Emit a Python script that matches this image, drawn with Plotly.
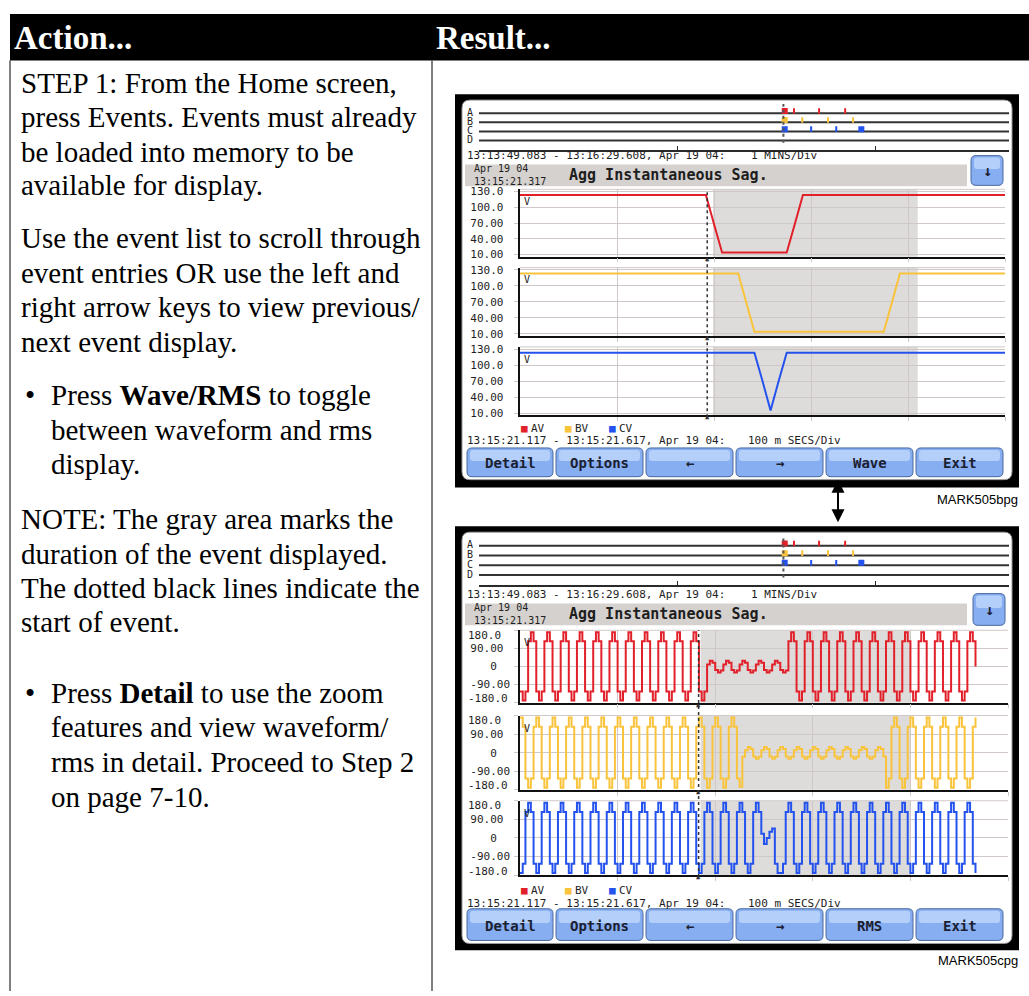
import plotly.graph_objects as go

# top screen (RMS view): half-cycle rms in volts, one value every 8.333 ms
rms_step_ms = 8.333
av_rms = [
    123, 123, 123, 123, 123, 123, 123, 123, 123, 123, 123, 123,
    123, 123, 123, 123, 123, 123, 123, 123, 123, 123, 123, 123,
    68, 14, 14, 14, 14, 14, 14, 14, 14, 14, 68,
    123, 123, 123, 123, 123, 123, 123, 123, 123, 123, 123, 123, 123,
    123, 123, 123, 123, 123, 123, 123, 123, 123, 123, 123, 123, 123,
]
bv_rms = [
    123, 123, 123, 123, 123, 123, 123, 123, 123, 123, 123, 123, 123, 123,
    123, 123, 123, 123, 123, 123, 123, 123, 123, 123, 123, 123, 123, 123,
    68, 14, 14, 14, 14, 14, 14, 14, 14, 14, 14, 14, 14, 14, 14, 14, 14, 14, 68,
    123, 123, 123, 123, 123, 123, 123, 123, 123, 123, 123, 123, 123, 123,
]
cv_rms = [
    123, 123, 123, 123, 123, 123, 123, 123, 123, 123, 123, 123, 123, 123, 123,
    123, 123, 123, 123, 123, 123, 123, 123, 123, 123, 123, 123, 123, 123, 123,
    70, 15, 70,
    123, 123, 123, 123, 123, 123, 123, 123, 123, 123, 123, 123, 123, 123,
    123, 123, 123, 123, 123, 123, 123, 123, 123, 123, 123, 123, 123, 123,
]

# bottom screen (waveform view): instantaneous volts, one value every 2.778 ms
wave_step_ms = 2.778
av_wave = [
    -125, -170, -125, 125, 170, 125, -125, -170, -125, 125, 170, 125,
    -125, -170, -125, 125, 170, 125, -125, -170, -125, 125, 170, 125,
    -125, -170, -125, 125, 170, 125, -125, -170, -125, 125, 170, 125,
    -125, -170, -125, 125, 170, 125, -125, -170, -125, 125, 170, 125,
    -125, -170, -125, 125, 170, 125, -125, -170, -125, 125, 170, 125,
    -125, -170, -125, 125, 170, 125,
    -125, -170, -125,
    10, 28, 18, -18, -30, -20, 10, 28, 18, -18, -30, -20,
    10, 28, 18, -18, -30, -20, 10, 28, 18, -18, -30, -20,
    10, 28, 18, -18, -30, -20,
    125, 170, 125, -125, -170, -125, 125, 170, 125, -125, -170, -125,
    125, 170, 125, -125, -170, -125, 125, 170, 125, -125, -170, -125,
    125, 170, 125, -125, -170, -125, 125, 170, 125, -125, -170, -125,
    125, 170, 125, -125, -170, -125, 125, 170, 125, -125, -170, -125,
    125, 170, 125, -125, -170, -125, 125, 170, 125, -125, -170, -125,
    125, 170, 125, -125, -170, -125,
    125, 170, 125, 0,
]
bv_wave = [
    170, 125, -125, -170, -125, 125, 170, 125, -125, -170, -125, 125,
    170, 125, -125, -170, -125, 125, 170, 125, -125, -170, -125, 125,
    170, 125, -125, -170, -125, 125, 170, 125, -125, -170, -125, 125,
    170, 125, -125, -170, -125, 125, 170, 125, -125, -170, -125, 125,
    170, 125, -125, -170, -125, 125, 170, 125, -125, -170, -125, 125,
    170, 125, -125, -170, -125, 125, 170, 125, -125, -170, -125, 125,
    170, 125, -125, -170, -125, 125,
    170, 125, -125, -165,
    -20, 12,
    28, 18, -18, -30, -20, 12, 28, 18, -18, -30, -20, 12,
    28, 18, -18, -30, -20, 12, 28, 18, -18, -30, -20, 12,
    28, 18, -18, -30, -20, 12, 28, 18, -18, -30, -20, 12,
    28, 18, -18, -30, -20, 12, 28, 18, -18, -30, -20, 12,
    28, 18, -18,
    -170, -125, 125,
    170, 125, -125, -170, -125, 125, 170, 125, -125, -170, -125, 125,
    170, 125, -125, -170, -125, 125, 170, 125, -125, -170, -125, 125,
    170, 125, -125, -170, -125, 125,
    170,
]
cv_wave = [
    -170, -125, 125, 170, 125, -125, -170, -125, 125, 170, 125, -125,
    -170, -125, 125, 170, 125, -125, -170, -125, 125, 170, 125, -125,
    -170, -125, 125, 170, 125, -125, -170, -125, 125, 170, 125, -125,
    -170, -125, 125, 170, 125, -125, -170, -125, 125, 170, 125, -125,
    -170, -125, 125, 170, 125, -125, -170, -125, 125, 170, 125, -125,
    -170, -125, 125, 170, 125, -125, -170, -125, 125, 170, 125, -125,
    -170, -125, 125, 170, 125, -125, -170, -125, 125, 170, 125, -125,
    -170, -125, 125, 170, 125,
    20, -30, 0, 30, 45,
    -125, -170, -170, -125, 125, 170, 125, -125,
    -170, -125, 125, 170, 125, -125, -170, -125, 125, 170, 125, -125,
    -170, -125, 125, 170, 125, -125, -170, -125, 125, 170, 125, -125,
    -170, -125, 125, 170, 125, -125, -170, -125, 125, 170, 125, -125,
    -170, -125, 125, 170, 125, -125, -170, -125, 125, 170, 125, -125,
    -170, -125, 125, 170, 125, -125, -170, -125, 125, 170, 125, -125,
    -170, -125, 125, 170, 125, -125,
    -170,
]

# event list strip: seconds after 13:13:49.083 (1 MINS/Div)
strip_span_s = 160.525
event_t = 92.2
av_marks = [92.6, 95.4, 103.0, 110.9]
bv_marks = [92.6, 97.9, 105.7, 113.3]
cv_marks = [92.6, 100.6, 108.2, 115.8]

# event start and shaded event duration, ms into the 500 ms window
rms_event_ms, rms_shade_ms = 193, (199, 410)
wave_event_ms, wave_shade_ms = 183, (185, 400)

rms_ticks = [10, 40, 70, 100, 130]
rms_ticktext = ['10.00', '40.00', '70.00', '100.0', '130.0']
wave_ticks = [-180, -90, 0, 90, 180]
wave_ticktext = ['-180.0', '-90.00', '0', '90.00', '180.0']

phase_names = ['AV', 'BV', 'CV']
phase_colors = ['#e2202a', '#f9c33c', '#2352ee']

# ---------------- page layout ----------------
W, H = 1029, 996
MONO = 'DejaVu Sans Mono'
SERIF = 'Liberation Serif'
GRID = '#d0c8c8'
INK = '#1e1e1e'
NB = '\u00a0'


def px(x):
    return x / W


def py(y):
    return 1 - y / H


def rrect(x0, y0, x1, y1, r):
    return (f'M{px(x0 + r)},{py(y0)} L{px(x1 - r)},{py(y0)} Q{px(x1)},{py(y0)} {px(x1)},{py(y0 + r)} '
            f'L{px(x1)},{py(y1 - r)} Q{px(x1)},{py(y1)} {px(x1 - r)},{py(y1)} '
            f'L{px(x0 + r)},{py(y1)} Q{px(x0)},{py(y1)} {px(x0)},{py(y1 - r)} '
            f'L{px(x0)},{py(y0 + r)} Q{px(x0)},{py(y0)} {px(x0 + r)},{py(y0)} Z')


def pad(label):
    # the meter centres its scale labels; right-aligned mono text padded with spaces does the same
    if len(label) == 1:
        return label + NB * 2
    return label + NB * (6 - len(label))


shapes = []
annotations = []
layout = {}
fig = go.Figure()


def note(x, y, s, size=11, color=INK, family=MONO, anchor='left'):
    annotations.append(dict(x=px(x), y=py(y), xref='paper', yref='paper', text=s, showarrow=False,
                            xanchor=anchor, yanchor='middle', borderpad=0, align='left',
                            font=dict(family=family, size=size, color=color)))


def rect(x0, y0, x1, y1, fill):
    shapes.append(dict(type='rect', xref='paper', yref='paper', x0=px(x0), x1=px(x1), y0=py(y0), y1=py(y1),
                       fillcolor=fill, line=dict(width=0), layer='below'))


def vline(x, y0, y1, color='black', width=1):
    shapes.append(dict(type='line', xref='paper', yref='paper', x0=px(x), x1=px(x), y0=py(y0), y1=py(y1),
                       line=dict(color=color, width=width), layer='below'))


def button(x0, y0, x1, y1, label, size=14):
    shapes.append(dict(type='path', path=rrect(x0, y0, x1, y1, 5), xref='paper', yref='paper',
                       fillcolor='#87aef0', line=dict(color='#48699f', width=1), layer='below'))
    shapes.append(dict(type='path', path=rrect(x0 + 3, y0 + 2, x1 - 3, y0 + (y1 - y0) * 0.45, 3),
                       xref='paper', yref='paper', fillcolor='#b4d0fa', line=dict(width=0), layer='below'))
    note((x0 + x1) / 2, (y0 + y1) / 2 + 1, f'<b>{label}</b>', size=size, color='#1b2030', anchor='center')


def ids(n):
    return ('x' if n == 1 else f'x{n}'), ('y' if n == 1 else f'y{n}')


# table frame and header
rect(10, 10, W, 57, 'black')
vline(10, 57, H)
vline(432, 57, H)
note(13, 34, '<b>Action...</b>', size=33, color='white', family=SERIF)
note(435, 34, '<b>Result...</b>', size=33, color='white', family=SERIF)

left_text = [
    (20, 80, 'STEP 1: From the Home screen,'),
    (20, 114, 'press Events. Events must already'),
    (20, 149, 'be loaded into memory to be'),
    (20, 183, 'available for display.'),
    (20, 236, 'Use the event list to scroll through'),
    (20, 271, 'event entries OR use the left and'),
    (20, 306, 'right arrow keys to view previous/'),
    (20, 341, 'next event display.'),
    (50, 395, 'Press <b>Wave/RMS</b> to toggle'),
    (50, 430, 'between waveform and rms'),
    (50, 464, 'display.'),
    (20, 520, 'NOTE: The gray area marks the'),
    (20, 555, 'duration of the event displayed.'),
    (20, 589, 'The dotted black lines indicate the'),
    (20, 624, 'start of event.'),
    (50, 695, 'Press <b>Detail</b> to use the zoom'),
    (50, 730, 'features and view waveform/'),
    (50, 765, 'rms in detail. Proceed to Step 2'),
    (50, 800, 'on page 7-10.'),
]
for x, y, s in left_text:
    note(x, y, s, size=29, color='black', family=SERIF)
note(24, 395, '•', size=29, color='black', family=SERIF)
note(24, 695, '•', size=29, color='black', family=SERIF)

# arrow linking the two screens
annotations.append(dict(x=px(838), y=py(523), ax=0, ay=-44, xref='paper', yref='paper',
                        text='', showarrow=True, arrowhead=2,
                        arrowside='end+start', arrowsize=1.3, arrowwidth=2, arrowcolor='black'))

screens = [
    dict(frame=(91, 488), inner=(97, 480), strip=(101, 147), strip_text=153, band=(162, 184),
         band_text=(173, 173), down=(971, 153, 1003, 183),
         plots=[(187, 255), (266, 335), (346, 415)], right=1005, legend=428, foot=440,
         buttons=(448, 477), labels=['Detail', 'Options', '←', '→', 'Wave', 'Exit'],
         mark=('MARK505bpg', 500), first_axis=1, edge_labels=False,
         series=[av_rms, bv_rms, cv_rms], step=rms_step_ms, shape='linear', yrange=[6, 134],
         ticks=rms_ticks, ticktext=rms_ticktext, event=rms_event_ms, shade=rms_shade_ms),
    dict(frame=(527, 955), inner=(533, 948), strip=(537, 586), strip_text=596, band=(605, 627),
         band_text=(616, 616), down=(973, 595, 1005, 627),
         plots=[(632, 705), (718, 793), (804, 879)], right=1008, legend=895, foot=908,
         buttons=(913, 945), labels=['Detail', 'Options', '←', '→', 'RMS', 'Exit'],
         mark=('MARK505cpg', 965), first_axis=5, edge_labels=True,
         series=[av_wave, bv_wave, cv_wave], step=wave_step_ms, shape='hv', yrange=[-180, 180],
         ticks=wave_ticks, ticktext=wave_ticktext, event=wave_event_ms, shade=wave_shade_ms),
]

button_x = [(467, 553), (556, 643), (646, 733), (736, 823), (826, 913), (916, 1003)]

for g in screens:
    # bezel
    rect(455, g['frame'][0], 1019, g['frame'][1], 'black')
    shapes.append(dict(type='path', path=rrect(462, g['inner'][0], 1012, g['inner'][1], 8),
                       xref='paper', yref='paper', fillcolor='white',
                       line=dict(color='#9a9a9a', width=1), layer='below'))

    # event list strip
    n = g['first_axis']
    xid, yid = ids(n)
    layout['xaxis' if n == 1 else f'xaxis{n}'] = dict(
        domain=[px(479), px(1009)], range=[0, strip_span_s], anchor=yid, showgrid=False, zeroline=False,
        showticklabels=False, tickvals=[0, 60, 120], ticks='inside', ticklen=4, tickcolor='#2a2a2a',
        showline=True, linecolor='#2a2a2a', linewidth=2)
    layout['yaxis' if n == 1 else f'yaxis{n}'] = dict(
        domain=[py(g['strip'][1]), py(g['strip'][0])], range=[0, 5], anchor=xid, visible=False)
    for lvl, letter in zip([4, 3, 2, 1], 'ABCD'):
        shapes.append(dict(type='line', xref=f'{xid} domain', yref=yid, x0=0, x1=1, y0=lvl, y1=lvl,
                           line=dict(color='#333333', width=2), layer='below'))
        annotations.append(dict(x=px(470), y=lvl + 0.1, xref='paper', yref=yid, text=letter,
                                showarrow=False, font=dict(family=MONO, size=10, color=INK)))
    mark_symbols = [['square', 'line-ns', 'line-ns', 'line-ns'],
                    ['square', 'line-ns', 'line-ns', 'line-ns'],
                    ['square', 'line-ns', 'line-ns', 'square']]
    for lvl, marks, color, syms in zip([4, 3, 2], [av_marks, bv_marks, cv_marks], phase_colors, mark_symbols):
        fig.add_trace(go.Scatter(x=marks, y=[lvl + 0.25] * len(marks), xaxis=xid, yaxis=yid, mode='markers',
                                 marker=dict(symbol=syms, size=4, color=color, line=dict(color=color, width=2)),
                                 hoverinfo='skip'))
    shapes.append(dict(type='line', xref=xid, yref=f'{yid} domain', x0=event_t, x1=event_t, y0=0.15, y1=1.0,
                       line=dict(color='#555555', width=2, dash='dot'), layer='above'))
    note(466, g['strip_text'], '13:13:49.083 - 13:16:29.608, Apr 19 04:')
    note(750, g['strip_text'], '1 MINS/Div')

    # title band
    rect(465, g['band'][0], 967, g['band'][1], '#d5d1ce')
    note(473, g['band_text'][0], 'Apr 19 04<br>13:15:21.317', size=10)
    note(568, g['band_text'][1], '<b>Agg Instantaneous Sag.</b>', size=15)
    button(*g['down'], '↓', size=15)

    # three phase plots
    plot_ids = []
    for i, ((top, bot), vals, name, color) in enumerate(zip(g['plots'], g['series'], phase_names, phase_colors)):
        k = n + 1 + i
        xid, yid = ids(k)
        plot_ids.append((xid, yid))
        labels = [pad(t) for t in g['ticktext']]
        if g['edge_labels']:
            # end labels sit just inside the plot, as on the meter
            for j in (0, -1):
                annotations.append(dict(x=px(510), y=0 if j == 0 else 1, xref='paper', yref=f'{yid} domain',
                                        text=labels[j], showarrow=False, xanchor='right', yanchor='middle',
                                        yshift=4 if j == 0 else -5,
                                        font=dict(family=MONO, size=11, color=INK)))
                labels[j] = ''
        layout[f'xaxis{k}'] = dict(
            domain=[px(520), px(g['right'])], range=[0, 500], anchor=yid,
            tickvals=[100, 200, 300, 400, 500], ticks='outside', ticklen=4, tickcolor=GRID,
            showticklabels=False, showgrid=True, gridcolor=GRID, showline=True, linecolor='#111111',
            linewidth=1.5, zeroline=False)
        layout[f'yaxis{k}'] = dict(
            domain=[py(bot), py(top)], range=g['yrange'], anchor=xid,
            tickvals=g['ticks'], ticktext=labels,
            ticks='outside', ticklen=4, tickcolor=GRID, showgrid=True, gridcolor=GRID,
            showline=True, linecolor='#111111', linewidth=1.5, zeroline=False, ticklabelstandoff=2,
            tickfont=dict(family=MONO, size=11, color=INK))
        shapes.append(dict(type='rect', xref=xid, yref=f'{yid} domain', x0=g['shade'][0], x1=g['shade'][1],
                           y0=0, y1=1, fillcolor='#dddcda', line=dict(width=0), layer='below'))
        shapes.append(dict(type='line', xref=f'{xid} domain', yref=f'{yid} domain', x0=0, x1=1, y0=1, y1=1,
                           line=dict(color=GRID, width=1), layer='below'))
        fig.add_trace(go.Scatter(x0=0, dx=g['step'], y=vals, xaxis=xid, yaxis=yid, mode='lines', name=name,
                                 line=dict(color=color, width=2, shape=g['shape']), hoverinfo='skip'))
        annotations.append(dict(x=0.004, y=0.93, xref=f'{xid} domain', yref=f'{yid} domain', text='V',
                                showarrow=False, xanchor='left', font=dict(family=MONO, size=10, color=INK)))
        annotations.append(dict(x=g['event'], y=0, xref=xid, yref=f'{yid} domain', text='▲', showarrow=False,
                                yanchor='middle', yshift=-2, font=dict(family=MONO, size=7, color='#333333')))
    shapes.append(dict(type='line', xref=plot_ids[0][0], yref='paper', x0=g['event'], x1=g['event'],
                       y0=py(g['plots'][2][1] + 2), y1=py(g['plots'][0][0]),
                       line=dict(color='#333333', width=1.5, dash='dot'), layer='above'))

    # legend and time span line
    for x, name, color in zip([520, 564, 608], phase_names, phase_colors):
        note(x, g['legend'], '■', size=11, color=color)
        note(x + 10, g['legend'], name, size=11)
    note(466, g['foot'], '13:15:21.117 - 13:15:21.617, Apr 19 04:')
    note(842, g['foot'], '100 m SECS/Div', anchor='right')

    for (x0, x1), label in zip(button_x, g['labels']):
        button(x0, g['buttons'][0], x1, g['buttons'][1], label)

    note(1019, g['mark'][1], g['mark'][0], size=13, color='black', family='Liberation Sans', anchor='right')

fig.update_layout(width=W, height=H, margin=dict(l=0, r=0, t=0, b=0), paper_bgcolor='white',
                  plot_bgcolor='white', showlegend=False, shapes=shapes, annotations=annotations, **layout)

# pin the graph to the page corner so the page margin does not shift it
pin = ("document.body.style.margin='0';"
       "var d=document.getElementById('{plot_id}');"
       "d.style.position='absolute';d.style.left='0px';d.style.top='0px';")
fig.write_html('out.html', post_script=pin, config={'displayModeBar': False})
